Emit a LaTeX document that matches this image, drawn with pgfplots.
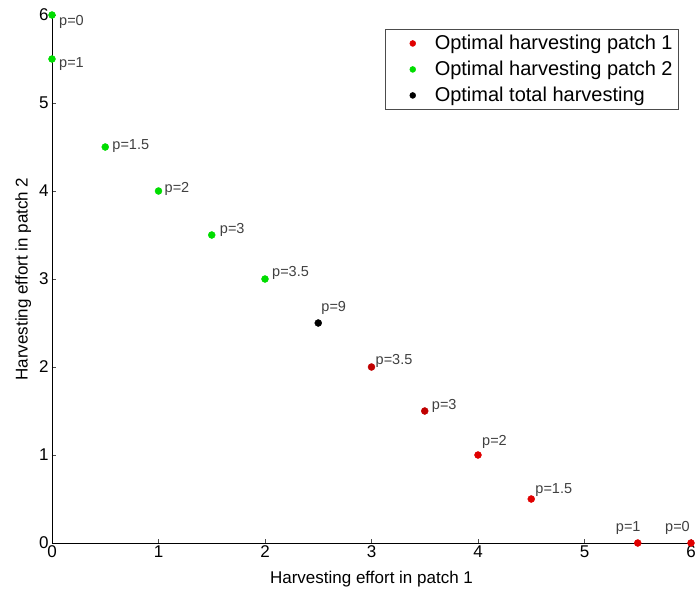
\documentclass[border=0pt]{standalone}
\usepackage{fontspec}
\setmainfont{Liberation Sans}
\usepackage{pgfplots}
\pgfplotsset{compat=1.18}
\definecolor{dred}{HTML}{C00000}
\definecolor{bred}{HTML}{E00000}
\definecolor{mgreen}{HTML}{00DD00}
\pgfplotsset{myleg/.style={legend image code/.code={\path[draw=none,fill=none] (0pt,-3pt) rectangle (44pt,3pt); \draw[##1,mark size=3pt] plot coordinates {(24pt,0pt)};}}}
\begin{document}
\begin{tikzpicture}[x=1pt,y=1pt]
\useasboundingbox (-52,-49) rectangle (647,543);
\begin{axis}[
  at={(0,0)}, anchor=origin,
  scale only axis, width=639pt, height=528pt,
  xmin=0, xmax=6, ymin=0, ymax=6,
  axis x line*=bottom, axis y line*=left,
  axis line style={black, line width=0.8pt},
  xtick={0,1,2,3,4,5,6}, ytick={0,1,2,3,4,5,6},
  tick align=inside, major tick length=4pt,
  tick style={black!70, line width=0.6pt},
  /pgf/number format/assume math mode=true,
  ticklabel style={font=\fontsize{17}{20}\selectfont},
  xticklabel style={yshift=1pt},
  xlabel={Harvesting effort in patch 1},
  ylabel={Harvesting effort in patch 2},
  label style={font=\fontsize{17}{20}\selectfont},
  xlabel style={yshift=-7pt},
  ylabel style={yshift=1pt},
  clip=false,
  legend style={at={(0.981,0.973)}, anchor=north east, draw=black!70,
    font=\fontsize{20}{24}\selectfont, inner xsep=4pt, inner ysep=4pt,
    row sep=6pt},
  legend cell align=left,
]
\addplot[only marks, mark=*, mark size=3.5pt, color=bred, mark options={draw=bred, fill=bred}, myleg] coordinates {
  (4,1) (4.5,0.5) (5.5,0) (6,0)
};
\addlegendentry{Optimal harvesting patch 1}
\addplot[only marks, mark=*, mark size=3.5pt, color=mgreen, mark options={draw=mgreen, fill=mgreen}, myleg] coordinates {
  (0,6) (0,5.5) (0.5,4.5) (1,4) (1.5,3.5) (2,3)
};
\addlegendentry{Optimal harvesting patch 2}
\addplot[only marks, mark=*, mark size=3.5pt, color=black, myleg] coordinates {
  (2.5,2.5)
};
\addlegendentry{Optimal total harvesting}
\addplot[only marks, mark=*, mark size=3.5pt, color=dred, mark options={draw=dred, fill=dred}, forget plot] coordinates {
  (3,2) (3.5,1.5)
};
\begin{scope}[every node/.style={font=\fontsize{14.5}{17}\selectfont, text=black!75, inner sep=1pt}]
\node[anchor=west] at ([xshift=6pt,yshift=-7pt]axis cs:0,6) {p=0};
\node[anchor=west] at ([xshift=6pt,yshift=-5pt]axis cs:0,5.5) {p=1};
\node[anchor=west] at ([xshift=6pt,yshift=1pt]axis cs:0.5,4.5) {p=1.5};
\node[anchor=west] at ([xshift=5pt,yshift=2pt]axis cs:1,4) {p=2};
\node[anchor=west] at ([xshift=7pt,yshift=5pt]axis cs:1.5,3.5) {p=3};
\node[anchor=west] at ([xshift=6pt,yshift=6pt]axis cs:2,3) {p=3.5};
\node[anchor=west] at ([xshift=2pt,yshift=15pt]axis cs:2.5,2.5) {p=9};
\node[anchor=west] at ([xshift=3pt,yshift=6pt]axis cs:3,2) {p=3.5};
\node[anchor=west] at ([xshift=6pt,yshift=5pt]axis cs:3.5,1.5) {p=3};
\node[anchor=west] at ([xshift=3pt,yshift=13pt]axis cs:4,1) {p=2};
\node[anchor=west] at ([xshift=3pt,yshift=9pt]axis cs:4.5,0.5) {p=1.5};
\node[anchor=east] at ([xshift=4pt,yshift=15pt]axis cs:5.5,0) {p=1};
\node[anchor=east] at ([xshift=0pt,yshift=15pt]axis cs:6,0) {p=0};
\end{scope}
\end{axis}
\end{tikzpicture}
\end{document}
